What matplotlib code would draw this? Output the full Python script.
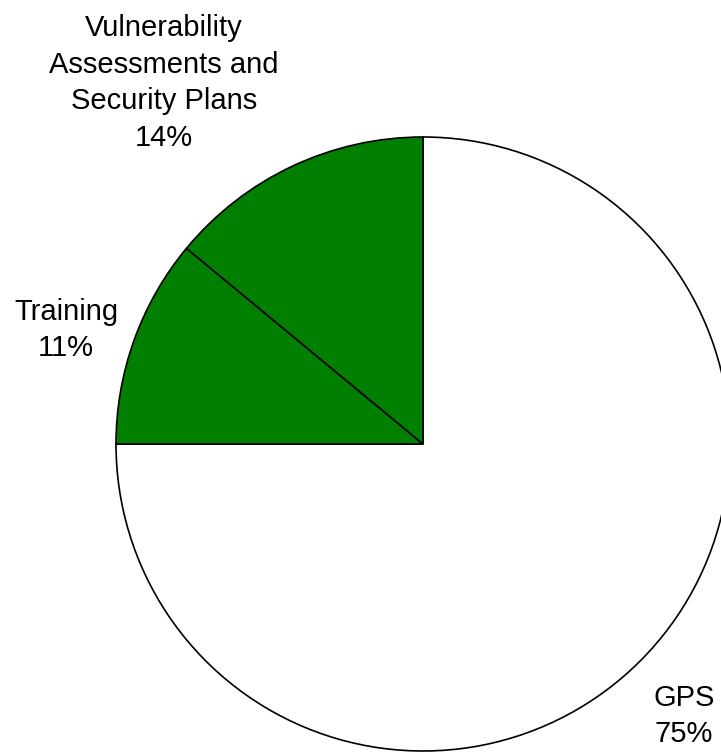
import matplotlib.pyplot as plt

labels = ["GPS", "Training", "Vulnerability\nAssessments and\nSecurity Plans"]
shares = [75, 11, 14]
colors = ["white", "#007F00", "#007F00"]

W, H = 721, 752
cx, cy, r = 423, 444, 307  # pie centre and radius in pixels

fig = plt.figure(figsize=(W / 100, H / 100), dpi=100)
ax = fig.add_axes([0, 0, 1, 1])
ax.pie(shares, colors=colors, startangle=90, counterclock=False,
       wedgeprops=dict(edgecolor="black", linewidth=1.2))
ax.set_xlim(-cx / r, (W - cx) / r)
ax.set_ylim(-(H - cy) / r, cy / r)
ax.set_aspect("equal")
ax.axis("off")

# label positions in pixels (x, y from top)
label_pos = [(684, 716), (66, 330), (164, 83)]
for lab, val, (px, py) in zip(labels, shares, label_pos):
    ax.text((px - cx) / r, (cy - py) / r, f"{lab}\n{val}%",
            ha="center", va="center", fontsize=21,
            family="Liberation Sans", linespacing=1.4)

fig.savefig("out.png", dpi=100)
